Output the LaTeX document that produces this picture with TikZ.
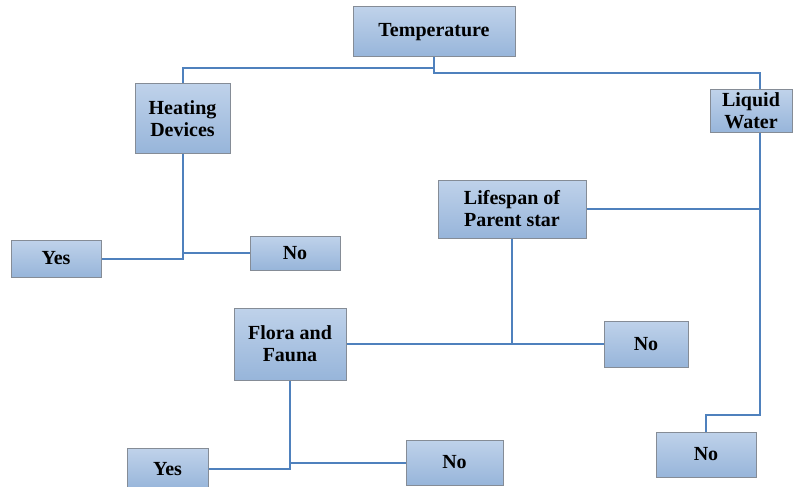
\documentclass[tikz,border=0pt]{standalone}
\usepackage{fontspec}
\setmainfont{Liberation Serif}
\definecolor{boxtop}{HTML}{BFD2EA}
\definecolor{boxbot}{HTML}{97B5DA}
\definecolor{boxline}{HTML}{858C96}
\definecolor{linkblue}{HTML}{4F81BD}
\tikzset{
  box/.style={draw=boxline, line width=1pt, top color=boxtop, bottom color=boxbot,
    font=\bfseries\fontsize{20}{22}\selectfont, align=center, inner sep=0pt},
  link/.style={draw=linkblue, line width=2pt}
}
\begin{document}
\begin{tikzpicture}[x=1pt,y=-1pt]
\useasboundingbox (0,0) rectangle (801,487);
\node[box, minimum width=162pt, minimum height=50pt] (temp) at (434,32) {Temperature};
\node[box, minimum width=95pt, minimum height=69pt] (heat) at (182.5,118.5) {Heating\\Devices};
\node[box, minimum width=82pt, minimum height=42pt] (water) at (751,111) {Liquid\\Water};
\node[box, minimum width=148pt, minimum height=58pt] (life) at (512,209) {Lifespan of\\Parent star};
\node[box, minimum width=90pt, minimum height=37pt] (yes1) at (56,258.5) {Yes};
\node[box, minimum width=90pt, minimum height=34pt] (no1) at (295,253) {No};
\node[box, minimum width=112pt, minimum height=72pt] (flora) at (290,344) {Flora and\\Fauna};
\node[box, minimum width=84pt, minimum height=46pt] (no2) at (646,344) {No};
\node[box, minimum width=100pt, minimum height=45pt] (no3) at (706,454.5) {No};
\node[box, minimum width=81pt, minimum height=41pt] (yes2) at (167.5,469) {Yes};
\node[box, minimum width=97pt, minimum height=45pt] (no4) at (454.5,462.5) {No};
\coordinate (wtop) at ([xshift=9pt]water.north);
\coordinate (wbot) at ([xshift=9pt]water.south);
\coordinate (wcorner) at (760,415);
\draw[link] (temp.south) -- ++(0,11) -| (heat.north);
\draw[link] (temp.south) -- ++(0,16) -| (wtop);
\draw[link] (wbot) -- (wcorner) -| (no3.north);
\draw[link] (life.east) -- (life.east -| wcorner);
\draw[link] (heat.south) |- (yes1.east);
\draw[link] (no1.west) -- (no1.west -| heat.south);
\draw[link] (life.south) -- (life.south |- flora.east);
\draw[link] (flora.east) -- (no2.west);
\draw[link] (flora.south) |- (yes2.east);
\draw[link] (no4.west) -- (no4.west -| flora.south);
\end{tikzpicture}
\end{document}
